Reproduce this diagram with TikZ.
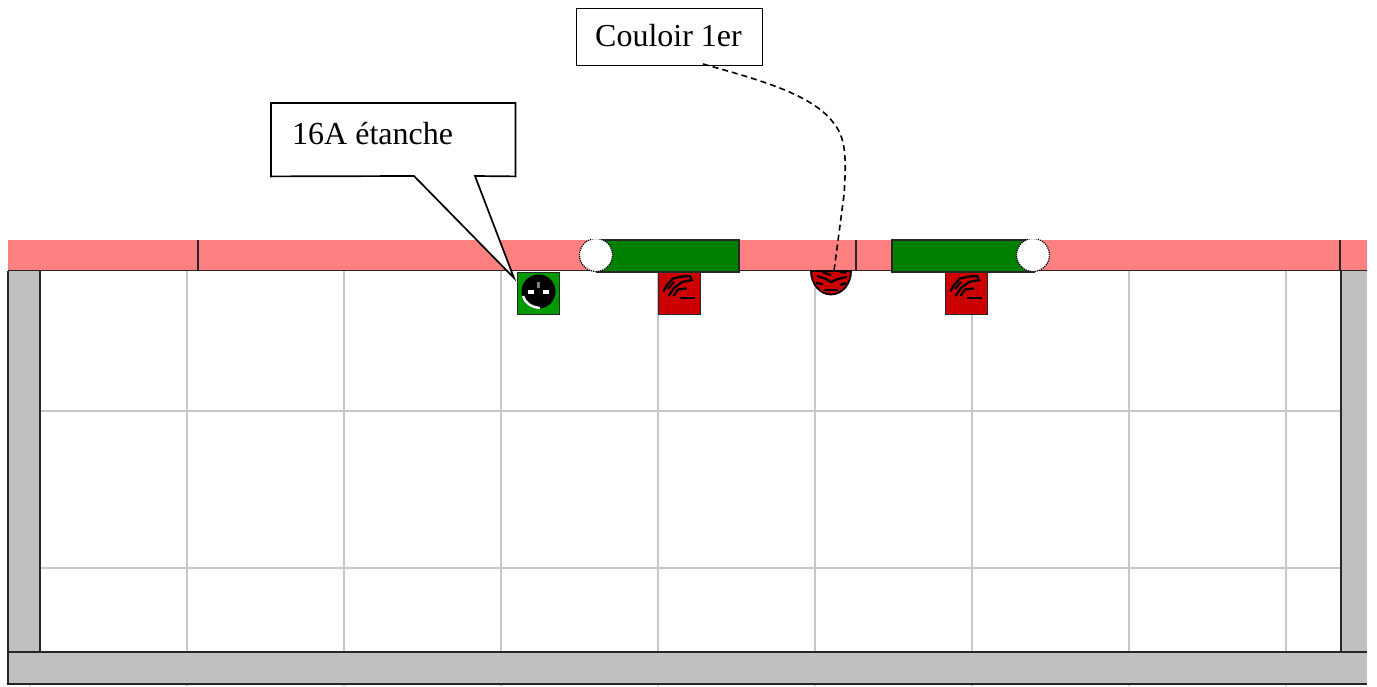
\documentclass[tikz,border=0pt]{standalone}
\usepackage{fontspec}
\setmainfont{Liberation Serif}
\definecolor{wallpink}{HTML}{FF8080}
\definecolor{wallgray}{HTML}{C0C0C0}
\definecolor{gridgray}{HTML}{C8C8C8}
\definecolor{bargreen}{HTML}{008000}
\definecolor{sockgreen}{HTML}{009A00}
\definecolor{boxred}{HTML}{CC0000}
\tikzset{
  gridline/.style={draw=gridgray,line width=1.5pt},
  wall/.style={draw=black!85,line width=1.8pt},
  bar/.style={fill=bargreen,draw=black!85,line width=1.8pt},
  hole/.style={circle,fill=white,draw=black,densely dotted,line width=1.2pt,minimum size=33pt,inner sep=0pt},
  device/.style={draw=black!85,line width=1.6pt,minimum size=42pt,inner sep=0pt,anchor=north west},
  calloutbox/.style={draw=black,fill=white,line width=1.7pt},
  label/.style={font=\fontsize{32}{35}\selectfont,anchor=west,inner sep=0pt},
  glyph/.style={black,line width=2.2pt}
}
\begin{document}
\begin{tikzpicture}[x=1pt,y=-1pt]
\useasboundingbox (0,0) rectangle (1377,686);
% grid
\foreach \x in {187,344,501,658,815,972,1129,1286}{
  \draw[gridgray,line width=1.5pt] (\x,270) -- (\x,652);
  \draw[gridgray,line width=1.5pt] (\x,684) -- (\x,686);
}
\draw[gridgray,line width=1.5pt] (30,684) -- (30,686);
\foreach \y in {411,568}{\draw[gridline] (40,\y) -- (1341,\y);}
% pink strip
\fill[wallpink] (8,240) rectangle (1367,270);
\draw[black!85,line width=1.5pt] (8,270.5) -- (1367,270.5);
\foreach \x in {198,856,1340}{\draw[black!85,line width=1.5pt] (\x,240) -- (\x,270);}
% gray walls
\filldraw[fill=wallgray,wall] (8,270.5) -- (8,652) -- (40,652) -- (40,270.5);
\filldraw[fill=wallgray,wall] (1367,270.5) -- (1341,270.5) -- (1341,652) -- (1367,652);
\fill[wallgray] (8,652) rectangle (1367,684);
\draw[wall] (1367,652) -- (8,652) -- (8,684) -- (1367,684);
% green bars
\draw[bar] (597,240) -- (739,240) -- (739,272) -- (597,272) -- cycle;
\draw[bar] (892,240) -- (1034,240) -- (1034,272) -- (892,272) -- cycle;
\node[hole] (doorA) at (596,255) {};
\node[hole] (doorB) at (1033,255) {};
\fill[white] (575,230) rectangle (1060,239.3);
% socket
\node[device,fill=sockgreen] (socket) at (516.5,271.5) {};
\fill[black] (538.5,291.5) circle (17);
\draw[white,line width=2.4pt] (523,296) .. controls (525,303) and (531,307) .. (540,308);
\fill[gray] (536.5,282) rectangle (539.5,288);
\fill[white] (528,290) rectangle (533.5,294);
\fill[white] (543,290) rectangle (548.5,294);
% red boxes
\foreach \n/\x in {heatA/657,heatB/944}{
  \node[device,fill=boxred] (\n) at (\x.5,271.5) {};
  \begin{scope}[shift={(\x,271)}]
    \draw[glyph] (6.5,20.5) -- (10,14) -- (16,7.5) -- (25,5.5) -- (33,5) -- (35,9) -- (25,11) -- (17,17) -- (11.5,25);
    \draw[glyph] (16.5,25) -- (21,18.5) -- (30,17.5);
    \draw[glyph] (23,26.7) -- (38,26.7);
    \draw[glyph] (11,18) -- (17,11);
  \end{scope}
}
% lamp
\fill[boxred,draw=black,line width=1.8pt] (811,271) arc[start angle=180,end angle=0,x radius=20,y radius=23.5] -- cycle;
\node[inner sep=0pt,minimum size=0pt] (lamp) at (831,271) {};
\draw[glyph] (817,276) -- (826,279) -- (831,282) -- (838,279) -- (847,277);
\draw[glyph] (822,272) -- (831,275);
\draw[glyph] (840,272) -- (846,273);
\draw[glyph] (816,283) -- (823,284);
\draw[glyph] (840,285) -- (846,283);
\draw[glyph] (824,290) -- (838,290);
% callout 16A
\node[inner sep=0pt,minimum width=244pt,minimum height=73pt,anchor=north west] (boxA) at (271,103) {};
\filldraw[calloutbox,line join=miter]
  (boxA.north west) -- (boxA.north east) -- (boxA.south east) -- (475,176) -- (514,278) -- (414,176) -- (boxA.south west) -- cycle;
\node[label] (labelA) at (292,134) {16A étanche};
% callout Couloir
\node[calloutbox,line width=1.4pt,inner sep=0pt,minimum width=186pt,minimum height=57pt,anchor=north west] (boxB) at (576,8) {};
\node[label] (labelB) at (595,36) {Couloir 1er};
\coordinate (startB) at (703,64);
\draw[black,line width=1.6pt,dash pattern=on 6pt off 4pt] (startB) .. controls (760,80) and (815,95) .. (835,125) .. controls (847,140) and (846,165) .. (844,195) -- (lamp.center -| 834,270);
\end{tikzpicture}
\end{document}
